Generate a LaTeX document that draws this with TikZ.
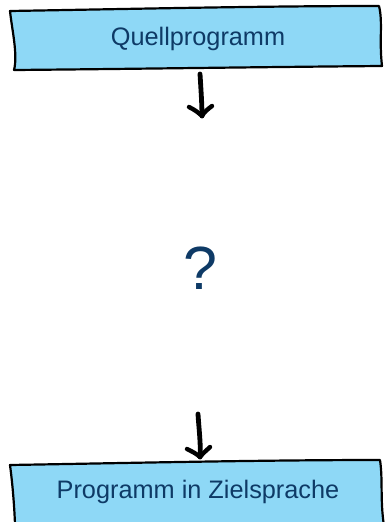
\documentclass[tikz,border=0pt]{standalone}
\usepackage{fontspec}
\setmainfont{Liberation Sans}
\definecolor{boxfill}{HTML}{8ED8F6}
\definecolor{txt}{HTML}{0E3A66}
\tikzset{
  sketchbox/.style={draw=black, line width=2.2pt, fill=boxfill, line join=round},
  label/.style={text=txt, font=\fontsize{25.3}{29}\selectfont, inner sep=0pt},
  arrowshaft/.style={draw=black, line width=4.8pt, line cap=round},
  arrowhead/.style={draw=black, line width=4.4pt, line cap=round, line join=round},
}
\begin{document}
\begin{tikzpicture}[x=1pt,y=-1pt]
\useasboundingbox (0,0) rectangle (384,522);
% top box
\draw[sketchbox] (10,11) .. controls (130,9) and (260,6) .. (379,6)
  .. controls (383,22) and (379,40) .. (382,66)
  .. controls (260,67) and (130,69) .. (14,70)
  .. controls (18,55) and (12,30) .. cycle;
\node[label] (src) at (198,39) {Quellprogramm};
% bottom box
\draw[sketchbox] (10,465) .. controls (130,463) and (260,460) .. (380,460)
  .. controls (383,480) and (380,500) .. (384,526)
  .. controls (260,524) and (130,524) .. (15,524)
  .. controls (14,500) and (12,480) .. cycle;
\node[label] (dst) at (198,492) {Programm in Zielsprache};
% question mark
\node[text=txt, font=\fontsize{61}{66}\selectfont, inner sep=0pt] (q) at (200,268) {?};
% arrows
\coordinate (a1s) at (200,74);
\coordinate (a1e) at (202,116);
\draw[arrowshaft] (a1s) .. controls (201,90) and (202,105) .. (a1e);
\draw[arrowhead] (189,107) .. controls (195,110) and (199,113) .. (a1e)
  .. controls (204,112) and (208,109) .. (212,106);
\coordinate (a2s) at (198,414);
\coordinate (a2e) at (200,457);
\draw[arrowshaft] (a2s) .. controls (199,430) and (201,445) .. (a2e);
\draw[arrowhead] (187,449) .. controls (193,452) and (197,454) .. (a2e)
  .. controls (203,453) and (207,450) .. (210,447);
\end{tikzpicture}
\end{document}
